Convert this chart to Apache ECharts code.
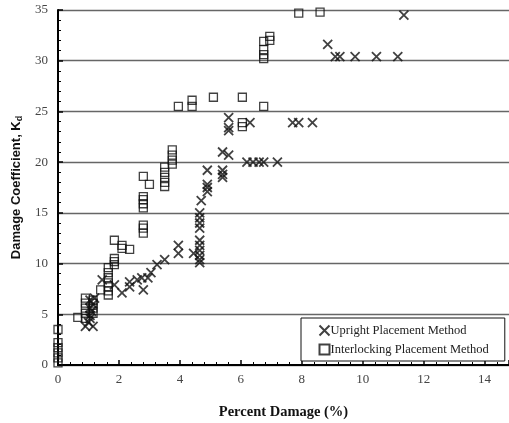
<!DOCTYPE html>
<html>
<head>
<meta charset="utf-8">
<script src="https://cdn.jsdelivr.net/npm/echarts@6/dist/echarts.min.js"></script>
<style>
  html, body { margin: 0; padding: 0; background: #fff; }
  #chart { width: 509px; height: 423px; }
</style>
</head>
<body>
<div id="chart"></div>
<script>
// Percent damage (%) vs. damage coefficient Kd, two placement methods
const uprightPoints = [
  [0.9, 3.8], [1.15, 3.8], [1.0, 4.2], [1.05, 4.6], [1.05, 4.9], [1.1, 5.3],
  [1.05, 5.6], [1.15, 6.0], [1.05, 6.4], [1.2, 6.6], [1.45, 8.4], [1.85, 7.9],
  [2.1, 7.1], [2.35, 7.7], [2.35, 8.2], [2.6, 8.4], [2.75, 8.6], [2.8, 7.4],
  [2.95, 8.6], [3.05, 9.1], [3.25, 9.9], [3.5, 10.4], [3.95, 11.0], [3.95, 11.8],
  [4.45, 11.0], [4.65, 10.1], [4.65, 10.4], [4.65, 10.8], [4.65, 11.3], [4.65, 11.8],
  [4.65, 12.3], [4.65, 13.5], [4.65, 14.0], [4.65, 14.5], [4.65, 15.0], [4.7, 16.2],
  [4.9, 17.1], [4.9, 17.5], [4.9, 17.8], [4.9, 19.2], [5.4, 18.5], [5.4, 18.8],
  [5.4, 19.2], [5.4, 21.0], [5.6, 20.7], [5.6, 23.1], [5.6, 23.4], [5.6, 24.4],
  [6.3, 23.9], [6.2, 20.0], [6.4, 20.0], [6.6, 20.0], [6.75, 20.0], [7.2, 20.0],
  [7.7, 23.9], [7.9, 23.9], [8.35, 23.9], [8.85, 31.6], [9.1, 30.4], [9.25, 30.4],
  [9.75, 30.4], [10.45, 30.4], [11.15, 30.4], [11.35, 34.5]
];

const interlockingPoints = [
  [0, 0.2], [0, 0.7], [0, 1.2], [0, 1.7], [0, 2.2], [0, 3.5],
  [0.65, 4.7], [0.9, 4.6], [0.9, 5.1], [0.9, 5.6], [0.9, 6.1], [0.9, 6.6],
  [1.15, 5.1], [1.15, 5.6], [1.15, 6.1], [1.15, 6.4], [1.4, 7.4],
  [1.65, 6.9], [1.65, 7.3], [1.65, 7.7], [1.65, 8.1], [1.65, 8.6], [1.65, 9.1], [1.65, 9.6],
  [1.85, 9.9], [1.85, 10.2], [1.85, 10.5], [1.85, 12.3], [2.1, 11.5], [2.1, 11.8], [2.35, 11.4],
  [2.8, 13.0], [2.8, 13.5], [2.8, 13.8], [2.8, 15.5], [2.8, 15.9], [2.8, 16.3], [2.8, 16.6],
  [2.8, 18.6], [3.0, 17.8], [3.5, 17.6], [3.5, 18.0], [3.5, 18.5], [3.5, 19.0], [3.5, 19.5],
  [3.75, 19.8], [3.75, 20.2], [3.75, 20.7], [3.75, 21.2], [3.95, 25.5], [4.4, 25.5], [4.4, 26.1],
  [5.1, 26.4], [6.05, 26.4], [6.05, 23.5], [6.05, 23.9], [6.75, 25.5],
  [6.75, 30.2], [6.75, 30.6], [6.75, 31.1], [6.75, 31.9], [6.95, 32.0], [6.95, 32.4],
  [7.9, 34.7], [8.6, 34.8]
];

const seriesNames = ['Upright Placement Method', 'Interlocking Placement Method'];
const xTitle = 'Percent Damage (%)';
const yTitle = 'Damage Coefficient, K';
const yTitleSub = 'd';

const serif = '"Liberation Serif", "Times New Roman", serif';
const sans = '"Liberation Sans", Arial, sans-serif';

const chart = echarts.init(document.getElementById('chart'), null, { renderer: 'canvas' });

const crossPath = 'path://M0,0L10,10M10,0L0,10';

chart.setOption({
  animation: false,
  backgroundColor: '#fff',
  grid: { left: 58, right: 0, top: 10, bottom: 58, outerBoundsMode: 'none', containLabel: false },
  legend: {
    orient: 'vertical',
    left: 301,
    top: 318,
    padding: [5, 16, 5, 16],
    itemGap: 5,
    itemWidth: 10,
    itemHeight: 10,
    borderColor: '#111',
    borderWidth: 1,
    backgroundColor: '#fff',
    textStyle: { fontFamily: serif, fontSize: 12.5, color: '#222', padding: [0, 0, 0, -4] },
    data: seriesNames
  },
  xAxis: [{
    type: 'value',
    min: 0,
    max: 14.8,
    interval: 2,
    name: xTitle,
    nameLocation: 'middle',
    nameGap: 40,
    nameTextStyle: { fontFamily: serif, fontWeight: 'bold', fontSize: 14.5, color: '#111' },
    axisLine: { show: true, onZero: false, lineStyle: { color: '#000', width: 2 } },
    axisTick: { show: true, inside: true, length: 5, lineStyle: { color: '#000', width: 1.5 } },
    minorTick: { show: true, splitNumber: 5, length: 3, lineStyle: { color: '#000', width: 1 } },
    axisLabel: {
      margin: 8, fontFamily: serif, fontSize: 13, color: '#444', showMaxLabel: false,
      formatter: v => (v % 2 === 0 ? String(v) : '')
    },
    splitLine: { show: false }
  }, {
    type: 'value',
    position: 'top',
    min: 0,
    max: 14.8,
    axisLine: { show: true, lineStyle: { color: '#000', width: 2 } },
    axisTick: { show: false },
    axisLabel: { show: false },
    splitLine: { show: false }
  }],
  yAxis: {
    type: 'value',
    min: 0,
    max: 35,
    interval: 5,
    name: '{t|' + yTitle + '}{s|' + yTitleSub + '}',
    nameLocation: 'middle',
    nameGap: 32,
    nameRotate: 90,
    nameTextStyle: {
      rich: {
        t: { fontFamily: sans, fontWeight: 'bold', fontSize: 13, color: '#111' },
        s: { fontFamily: sans, fontWeight: 'bold', fontSize: 9, color: '#111', verticalAlign: 'bottom', padding: [7, 0, 0, 0] }
      }
    },
    axisLine: { show: true, onZero: false, lineStyle: { color: '#000', width: 2 } },
    axisTick: { show: true, inside: true, length: 5, lineStyle: { color: '#000', width: 1.5 } },
    minorTick: { show: true, splitNumber: 5, length: 3, lineStyle: { color: '#000', width: 1 } },
    axisLabel: { margin: 10, fontFamily: serif, fontSize: 13, color: '#444' },
    splitLine: { show: true, lineStyle: { color: '#666', width: 1.3 } }
  },
  series: [{
    name: seriesNames[0],
    type: 'scatter',
    data: uprightPoints,
    symbol: crossPath,
    symbolSize: 9,
    itemStyle: { color: 'none', borderColor: '#111', borderWidth: 1.8 },
    z: 3
  }, {
    name: seriesNames[1],
    type: 'scatter',
    data: interlockingPoints,
    symbol: 'rect',
    symbolSize: 8,
    itemStyle: { color: 'rgba(255,255,255,0)', borderColor: '#111', borderWidth: 1.3 },
    z: 2
  }]
});
</script>
</body>
</html>
